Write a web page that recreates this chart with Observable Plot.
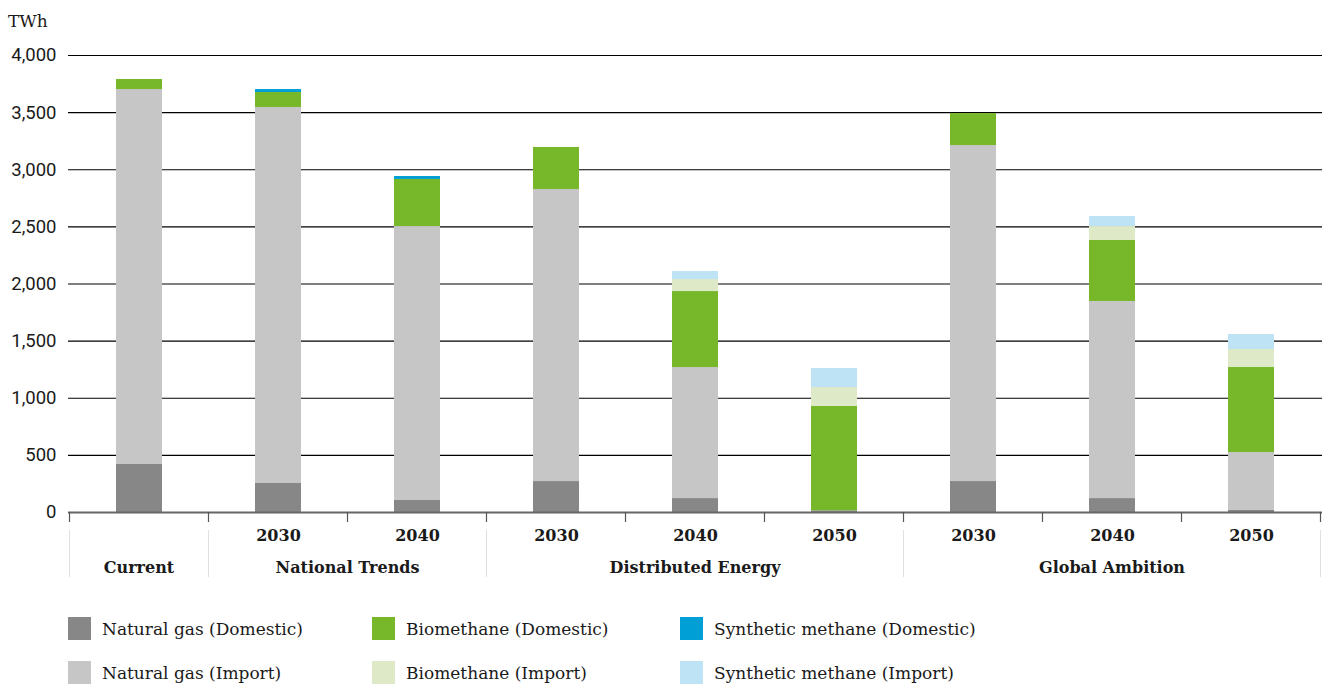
<!DOCTYPE html>
<html><head><meta charset="utf-8">
<script src="https://cdn.jsdelivr.net/npm/d3@7"></script>
<script src="https://cdn.jsdelivr.net/npm/@observablehq/plot@0.6"></script>
<style>
body{margin:0;background:#fff;}
#wrap{position:relative;width:1325px;height:684px;overflow:hidden;background:#fff;}
.serif{font-family:"DejaVu Serif",serif;}
#unit{position:absolute;left:8px;top:11px;font-size:17px;color:#1a1a1a;}
#legend{position:absolute;left:68px;top:617px;display:grid;grid-template-columns:304px 308px 330px;row-gap:21px;}
.item{display:flex;align-items:center;height:23px;font-size:17px;color:#1a1a1a;}
.sw{width:23px;height:23px;margin-right:11px;flex:none;}
</style></head><body><div id="wrap"><div id="unit" class="serif">TWh</div><div id="legend" class="serif"></div></div>
<script>
const categories = ["Current","NT 2030","NT 2040","DE 2030","DE 2040","DE 2050","GA 2030","GA 2040","GA 2050"];
const years = ["","2030","2040","2030","2040","2050","2030","2040","2050"];
const groupNames = ["Current","National Trends","Distributed Energy","Global Ambition"];
const groupOf = ["Current","National Trends","National Trends","Distributed Energy","Distributed Energy","Distributed Energy","Global Ambition","Global Ambition","Global Ambition"];
const series = ["Natural gas (Domestic)","Natural gas (Import)","Biomethane (Domestic)","Biomethane (Import)","Synthetic methane (Domestic)","Synthetic methane (Import)"];
const colors = ["#878787","#c6c6c6","#76b82a","#dde9c7","#009fd5","#bee3f4"];
const natGasDomestic = [420,254,105,271,122,15,271,122,18];
const natGasImport   = [3282,3291,2398,2556,1147,0,2941,1725,507];
const bioDomestic    = [88,131,412,368,665,913,280,534,744];
const bioImport      = [0,0,0,0,105,166,0,122,158];
const synDomestic    = [0,26,26,0,0,0,0,0,0];
const synImport      = [0,0,0,0,70,166,0,88,131];
const yTicks = [0,500,1000,1500,2000,2500,3000,3500,4000];
const legendOrder = [0,2,4,1,3,5];

const seriesValues = [natGasDomestic,natGasImport,bioDomestic,bioImport,synDomestic,synImport];
const data = [];
series.forEach((s,i)=>categories.forEach((c,j)=>data.push({cat:c,series:s,value:seriesValues[i][j]})));
const yearOf = Object.fromEntries(categories.map((c,i)=>[c,years[i]]));
const serif = '"DejaVu Serif",serif';

const plot = Plot.plot({
  width:1325, height:600, marginTop:55, marginBottom:88, marginLeft:68, marginRight:3,
  style:{fontFamily:"Roboto", fontSize:"17px", color:"#1a1a1a", background:"#fff", overflow:"visible"},
  x:{domain:categories, paddingInner:0.67, paddingOuter:0.335, axis:null},
  y:{domain:[0,4000], axis:null},
  color:{domain:series, range:colors},
  marks:[
    Plot.gridY(yTicks.filter(d=>d>0), {stroke:"#000", strokeOpacity:1, strokeWidth:1.2}),
    Plot.barY(data, {x:"cat", y:"value", fill:"series", z:"series", order:series}),
    Plot.ruleY([0], {stroke:"#666", strokeWidth:2}),
    Plot.axisY(yTicks, {label:null, tickSize:0, tickPadding:12, tickFormat:d3.format(","), fontSize:18.5, fontFamily:"Roboto", fill:"#1a1a1a"}),
    Plot.axisX(categories, {label:null, tickSize:0, tickPadding:17, tickFormat:d=>yearOf[d], fontSize:16, fontWeight:"bold", fontFamily:serif, fill:"#1a1a1a"})
  ]
});
document.getElementById("wrap").prepend(plot);

// band boundaries, separators and group labels from the x scale
const xs = plot.scale("x");
const gap = xs.step - xs.bandwidth;
const leftOf = c => xs.apply(c) - gap/2;
const rightOf = c => xs.apply(c) + xs.bandwidth + gap/2;
const yScale = plot.scale("y");
const y0 = yScale.apply(0);
const g = d3.select(plot).append("g");
const bounds = categories.map(leftOf).concat([rightOf(categories[categories.length-1])]);
g.selectAll("line.tk").data(bounds).join("line")
  .attr("x1",d=>d).attr("x2",d=>d).attr("y1",y0).attr("y2",y0+10)
  .attr("stroke","#555").attr("stroke-width",1.2);
const groups = groupNames.map(n=>{
  const cs = categories.filter((c,i)=>groupOf[i]===n);
  return {name:n, left:leftOf(cs[0]), right:rightOf(cs[cs.length-1])};
});
const seps = groups.map(d=>d.left).concat([groups[groups.length-1].right]);
g.selectAll("line.sep").data(seps).join("line")
  .attr("x1",d=>d).attr("x2",d=>d).attr("y1",y0+18).attr("y2",y0+65)
  .attr("stroke","#e0e0e0").attr("stroke-width",1);
g.selectAll("text.grp").data(groups).join("text")
  .attr("x",d=>(d.left+d.right)/2).attr("y",y0+61)
  .attr("text-anchor","middle").attr("font-family",serif).attr("font-weight","bold")
  .attr("font-size",16).attr("fill","#1a1a1a").text(d=>d.name);

// legend
const leg = d3.select("#legend");
legendOrder.forEach(i=>{
  const it = leg.append("div").attr("class","item");
  it.append("div").attr("class","sw").style("background",colors[i]);
  it.append("span").text(series[i]);
});
</script></body></html>
